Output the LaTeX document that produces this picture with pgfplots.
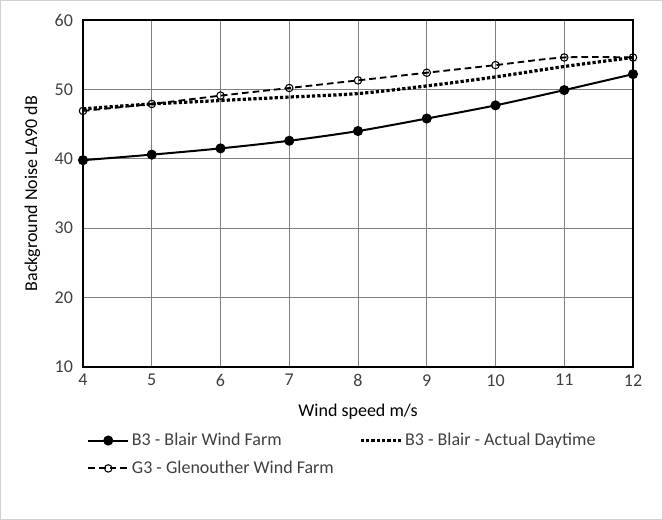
\documentclass[border=0pt]{standalone}
\usepackage{pgfplots}
\pgfplotsset{compat=1.18}
\usepackage{fontspec}
\setmainfont{Carlito}
\definecolor{txt}{HTML}{404040}
\definecolor{gridc}{HTML}{808080}
\begin{document}
\begin{tikzpicture}
\path[draw=gray!35, line width=0.75pt] (0.375pt,0.375pt) rectangle (496.875pt,389.625pt);
\begin{axis}[
  at={(62.25pt,114.75pt)}, anchor=south west,
  scale only axis, width=412.5pt, height=260.25pt,
  xmin=4, xmax=12, ymin=10, ymax=60,
  xtick={4,5,...,12}, ytick={10,20,...,60},
  grid=major,
  major grid style={gridc, line width=0.6pt},
  axis line style={black, line width=1pt},
  tick style={draw=none},
  ticklabel style={font=\fontsize{13.5}{16}\selectfont, text=txt},
  xticklabel style={yshift=-2pt},
  yticklabel style={xshift=-4pt},
  /pgf/number format/assume math mode=true,
  xlabel={Wind speed m/s}, ylabel={Background Noise LA90 dB},
  label style={font=\fontsize{13.5}{16}\selectfont, text=black},
  xlabel style={yshift=-6pt},
  ylabel style={yshift=4pt},
  legend style={at={(0,-0.175)}, anchor=north west, draw=none, fill=none,
    font=\fontsize{13.5}{16}\selectfont, text=txt, legend columns=2,
    /tikz/every even column/.append style={column sep=17pt},
    row sep=6pt},
  legend cell align=left,
  legend image code/.code={\draw[#1] (0pt,0pt) -- (30pt,0pt); \draw[#1, only marks] plot coordinates {(15pt,0pt)};},
]
\addplot[black, line width=1.5pt, smooth, mark=*, mark size=3pt, mark options={solid}] coordinates {
(4,39.8) (5,40.6) (6,41.5) (7,42.6) (8,44.0) (9,45.8) (10,47.7) (11,49.9) (12,52.2)};
\addlegendentry{B3 - Blair Wind Farm}
\addplot[black, line width=2.4pt, smooth, dash pattern=on 2.4pt off 1.6pt] coordinates {
(4,47.2) (5,47.9) (6,48.4) (7,48.9) (8,49.4) (9,50.5) (10,51.8) (11,53.3) (12,54.6)};
\addlegendentry{B3 - Blair - Actual Daytime}
\addplot[black, line width=1.4pt, smooth, dash pattern=on 5pt off 3pt, mark=o, mark size=2.8pt, mark options={solid, line width=0.8pt}] coordinates {
(4,46.9) (5,47.9) (6,49.1) (7,50.2) (8,51.3) (9,52.4) (10,53.5) (11,54.6) (12,54.6)};
\addlegendentry{G3 - Glenouther Wind Farm}
\end{axis}
\end{tikzpicture}
\end{document}
